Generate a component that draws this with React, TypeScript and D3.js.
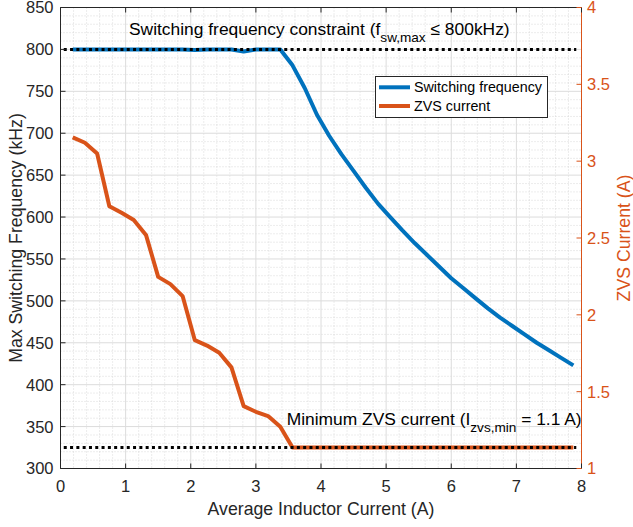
import React from "react";
import * as d3 from "d3";

const currentA = [
  0.1875, 0.375, 0.5625, 0.75, 0.9375, 1.125, 1.3125, 1.5, 1.6875, 1.875,
  2.0625, 2.25, 2.4375, 2.625, 2.8125, 3.0, 3.1875, 3.375, 3.5625, 3.75,
  3.9375, 4.125, 4.3125, 4.5, 4.6875, 4.875, 5.0625, 5.25, 5.4375, 5.625,
  5.8125, 6.0, 6.1875, 6.375, 6.5625, 6.75, 6.9375, 7.125, 7.3125, 7.5,
  7.6875, 7.875,
];
const freqKHz = [
  800, 800, 800, 800, 800, 800, 800, 800, 800, 800,
  799.3, 800, 800, 800, 797.5, 800, 800, 800, 781, 754,
  722, 697, 675, 655, 635, 616, 600, 584, 569, 555,
  541, 527, 515, 503, 491, 480, 470, 460, 450, 441,
  432, 423,
];
const zvsA = [
  3.155, 3.12, 3.05, 2.707, 2.664, 2.617, 2.52, 2.247, 2.2, 2.122,
  1.835, 1.8, 1.753, 1.658, 1.406, 1.369, 1.341, 1.272, 1.136, 1.136,
  1.136, 1.136, 1.136, 1.136, 1.136, 1.136, 1.136, 1.136, 1.136, 1.136,
  1.136, 1.136, 1.136, 1.136, 1.136, 1.136, 1.136, 1.136, 1.136, 1.136,
  1.136, 1.136,
];
const xTicks = [0, 1, 2, 3, 4, 5, 6, 7, 8];
const leftTicks = [300, 350, 400, 450, 500, 550, 600, 650, 700, 750, 800, 850];
const rightTicks = [1, 1.5, 2, 2.5, 3, 3.5, 4];
const fswMaxKHz = 800;
const zvsLineKHz = 325;
const limitSpan = [0.05, 7.92];
const legendLabels = ["Switching frequency", "ZVS current"];

const BLUE = "#0072BD";
const ORANGE = "#D95319";
const AX = "#262626";
const FONT = "'Liberation Sans', Arial, Helvetica, sans-serif";

export default function App() {
  const L = 60.5, R = 581.5, T = 7.5, B = 468.5;
  const x = d3.scaleLinear().domain([0, 8]).range([L, R]);
  const yL = d3.scaleLinear().domain([300, 850]).range([B, T]);
  const yR = d3.scaleLinear().domain([1, 4]).range([B, T]);

  const minorX = d3.range(0, 8.001, 0.2).filter((v) => Math.abs(v - Math.round(v)) > 1e-6);
  const minorY = d3.range(300, 850.1, 10).filter((v) => v % 50 !== 0);

  const blueLine = d3.line<number>().x((_, i) => x(currentA[i])).y((d) => yL(d))(freqKHz) || "";
  const orangeLine = d3.line<number>().x((_, i) => x(currentA[i])).y((d) => yR(d))(zvsA) || "";

  const tick = 5;

  return (
    <div style={{ position: "fixed", left: 0, top: 0 }}>
      <svg width={633} height={527} style={{ display: "block", background: "#fff" }} fontFamily={FONT}>
        <rect x={0} y={0} width={633} height={527} fill="#fff" />
        {/* minor grid */}
        <g stroke="#d0d0d0" strokeWidth={0.8} strokeDasharray="1 2">
          {minorX.map((v) => (
            <line key={"mx" + v} x1={x(v)} x2={x(v)} y1={T} y2={B} />
          ))}
          {minorY.map((v) => (
            <line key={"my" + v} x1={L} x2={R} y1={yL(v)} y2={yL(v)} />
          ))}
        </g>
        {/* major grid */}
        <g stroke="#dcdcdc" strokeWidth={1}>
          {xTicks.map((v) => (
            <line key={"gx" + v} x1={x(v)} x2={x(v)} y1={T} y2={B} />
          ))}
          {leftTicks.map((v) => (
            <line key={"gy" + v} x1={L} x2={R} y1={yL(v)} y2={yL(v)} />
          ))}
        </g>
        {/* data */}
        <path d={orangeLine} fill="none" stroke={ORANGE} strokeWidth={4} strokeLinejoin="round" />
        <path d={blueLine} fill="none" stroke={BLUE} strokeWidth={4} strokeLinejoin="round" />
        {/* constraint lines */}
        <line x1={x(limitSpan[0])} x2={x(limitSpan[1])} y1={yL(fswMaxKHz)} y2={yL(fswMaxKHz)} stroke="#000" strokeWidth={3} strokeDasharray="3 3.3" />
        <line x1={x(limitSpan[0])} x2={x(limitSpan[1])} y1={yL(zvsLineKHz)} y2={yL(zvsLineKHz)} stroke="#000" strokeWidth={3} strokeDasharray="3 3.3" />
        {/* annotations */}
        <text x={129} y={35} fontSize={17.4} fill="#000">
          Switching frequency constraint (f
          <tspan fontSize={13.6} dy={6.5}>sw,max</tspan>
          <tspan dy={-6.5}> ≤ 800kHz)</tspan>
        </text>
        <text x={286.7} y={425} fontSize={17.4} fill="#000">
          Minimum ZVS current (I
          <tspan fontSize={13.6} dy={6.5}>zvs,min</tspan>
          <tspan dy={-6.5}> = 1.1 A)</tspan>
        </text>
        {/* axes box */}
        <line x1={L} x2={R} y1={T} y2={T} stroke={AX} strokeWidth={1} />
        <line x1={L} x2={R} y1={B} y2={B} stroke={AX} strokeWidth={1} />
        <line x1={L} x2={L} y1={T} y2={B} stroke={AX} strokeWidth={1} />
        <line x1={R} x2={R} y1={T} y2={B} stroke={ORANGE} strokeWidth={1} />
        {/* x ticks */}
        {xTicks.map((v) => (
          <g key={"xt" + v}>
            <line x1={x(v)} x2={x(v)} y1={B} y2={B - tick} stroke={AX} />
            <line x1={x(v)} x2={x(v)} y1={T} y2={T + tick} stroke={AX} />
            <text x={x(v)} y={492} fontSize={16.5} textAnchor="middle" fill={AX}>{v}</text>
          </g>
        ))}
        {/* left ticks */}
        {leftTicks.map((v) => (
          <g key={"lt" + v}>
            <line x1={L} x2={L + tick} y1={yL(v)} y2={yL(v)} stroke={AX} />
            <text x={53.5} y={yL(v)} dy="0.36em" fontSize={16.5} textAnchor="end" fill={AX}>{v}</text>
          </g>
        ))}
        {/* right ticks */}
        {rightTicks.map((v) => (
          <g key={"rt" + v}>
            <line x1={R} x2={R - tick} y1={yR(v)} y2={yR(v)} stroke={ORANGE} />
            <text x={587} y={yR(v)} dy="0.36em" fontSize={16.5} textAnchor="start" fill={ORANGE}>{v}</text>
          </g>
        ))}
        {/* axis labels */}
        <text x={(L + R) / 2} y={515} fontSize={17.7} textAnchor="middle" fill={AX}>Average Inductor Current (A)</text>
        <text transform={`translate(22,${(T + B) / 2}) rotate(-90)`} fontSize={17.7} textAnchor="middle" fill={AX}>Max Switching Frequency (kHz)</text>
        <text transform={`translate(630,${(T + B) / 2}) rotate(-90)`} fontSize={17.7} textAnchor="middle" fill={ORANGE}>ZVS Current (A)</text>
        {/* legend */}
        <g>
          <rect x={375.5} y={76.5} width={172} height={41} fill="#fff" stroke={AX} strokeWidth={1} />
          <line x1={379} x2={410} y1={87.3} y2={87.3} stroke={BLUE} strokeWidth={4} />
          <line x1={379} x2={410} y1={106} y2={106} stroke={ORANGE} strokeWidth={4} />
          <text x={414} y={87.3} dy="0.35em" fontSize={14.3} fill="#000">{legendLabels[0]}</text>
          <text x={414} y={106} dy="0.35em" fontSize={14.3} fill="#000">{legendLabels[1]}</text>
        </g>
      </svg>
    </div>
  );
}
